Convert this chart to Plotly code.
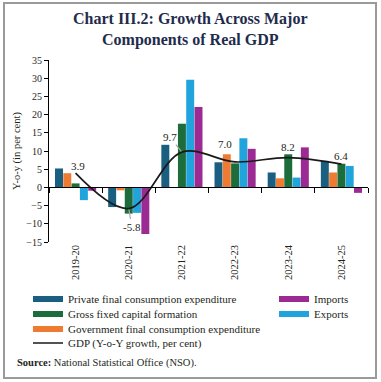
import plotly.graph_objects as go

# ---------------- data ----------------
years = ["2019-20", "2020-21", "2021-22", "2022-23", "2023-24", "2024-25"]
pfce = [5.2, -5.4, 11.7, 6.9, 4.1, 7.3]        # Private final consumption expenditure
gfce = [3.9, -0.8, 0.0, 9.1, 2.5, 4.1]         # Government final consumption expenditure
gfcf = [1.1, -7.2, 17.5, 6.6, 9.1, 6.5]        # Gross fixed capital formation
exports = [-3.5, -7.0, 29.6, 13.5, 2.7, 5.9]
imports = [-0.9, -12.8, 22.1, 10.6, 11.0, -1.5]
gdp = [3.9, -5.8, 9.7, 7.0, 8.2, 6.4]
gdp_labels = ["3.9", "-5.8", "9.7", "7.0", "8.2", "6.4"]
y_ticks = [-15, -10, -5, 0, 5, 10, 15, 20, 25, 30, 35]

# ---------------- layout helpers ----------------
W, H = 381, 382
ML, MR, MT, MB = 49, 13, 60, 140
PW, PH = W - ML - MR, H - MT - MB
def fx(px):
    return (px - ML) / PW
def fy(py):
    return (H - MB - py) / PH

FONT = "Liberation Serif"
TXT = "#231f20"
C_PFCE, C_GFCE, C_GFCF, C_EXP, C_IMP = "#1a5e80", "#ef7b32", "#1c6d3b", "#21a3dc", "#9c2a93"

fig = go.Figure()
for name, vals, col in [
    ("Private final consumption expenditure", pfce, C_PFCE),
    ("Government final consumption expenditure", gfce, C_GFCE),
    ("Gross fixed capital formation", gfcf, C_GFCF),
    ("Exports", exports, C_EXP),
    ("Imports", imports, C_IMP),
]:
    fig.add_trace(go.Bar(x=years, y=vals, name=name, marker_color=col,
                         marker_line_width=0, showlegend=False))

# GDP line on overlay axis (that axis also carries the zero line with boundary ticks)
fig.add_trace(go.Scatter(x=years, y=gdp, xaxis="x2", mode="lines",
                         line=dict(color="#1a1a1a", width=1.7, shape="spline", smoothing=1.0),
                         name="GDP (Y-o-Y growth, per cent)", legend="legend4"))

# legend swatches (one legend box per legend row/column)
legend_items = [
    ("Private final consumption expenditure", C_PFCE, "legend"),
    ("Gross fixed capital formation", C_GFCF, "legend2"),
    ("Government final consumption expenditure", C_GFCE, "legend3"),
    ("Imports", C_IMP, "legend5"),
    ("Exports", C_EXP, "legend6"),
]
for name, col, lg in legend_items:
    fig.add_trace(go.Scatter(x=[None], y=[None], mode="lines", name=name,
                             line=dict(color=col, width=6), legend=lg))

# GDP labels
offsets = [(2, -7, False), (3, 18, True), (-12, -15, True), (-10, -18, False), (0, -11, False), (0, -8, False)]
for yr, v, lab, (dx, dy, arrow) in zip(years, gdp, gdp_labels, offsets):
    if arrow:
        fig.add_annotation(x=yr, y=v, xref="x", yref="y", text=lab, showarrow=True,
                           ax=dx, ay=dy, arrowhead=0, arrowwidth=1.2, arrowcolor="#a8a8a8",
                           standoff=1, font=dict(family=FONT, size=11, color=TXT))
    else:
        fig.add_annotation(x=yr, y=v, xref="x", yref="y", text=lab, showarrow=False,
                           xshift=dx, yshift=-dy, font=dict(family=FONT, size=11, color=TXT))

# Title (single text block, two lines)
fig.add_annotation(x=fx(190.5), y=fy(29.5), xref="paper", yref="paper", showarrow=False,
                   text="<b>Chart III.2: Growth Across Major<br>Components of Real GDP</b>",
                   xanchor="center", yanchor="middle", align="center",
                   font=dict(family=FONT, size=16, color="#1f2c4c"))
# Source
fig.add_annotation(x=fx(15), y=fy(363), xref="paper", yref="paper", showarrow=False,
                   text="<b>Source:</b> National Statistical Office (NSO).", xanchor="left", yanchor="middle",
                   font=dict(family=FONT, size=10.5, color=TXT))

# Border
fig.add_shape(type="rect", xref="paper", yref="paper", x0=fx(4), x1=fx(376), y0=fy(378), y1=fy(3),
              line=dict(color="#9a9a9a", width=2), layer="below")

leg_common = dict(orientation="v", xanchor="left", yanchor="middle", bgcolor="rgba(0,0,0,0)",
                  font=dict(family=FONT, size=11, color=TXT), itemwidth=30)
fig.update_layout(
    width=W, height=H, margin=dict(l=ML, r=MR, t=MT, b=MB, autoexpand=False),
    paper_bgcolor="white", plot_bgcolor="white",
    barmode="group", bargap=0.22, bargroupgap=0.04,
    font=dict(family=FONT, size=10, color=TXT),
    xaxis=dict(type="category", categoryorder="array", categoryarray=years, range=[-0.5, 5.5],
               showline=False, ticks="", ticklen=0, tickangle=-90, showgrid=False,
               tickfont=dict(family=FONT, size=10.5, color=TXT)),
    xaxis2=dict(type="category", categoryorder="array", categoryarray=years, range=[-0.5, 5.5],
                overlaying="x", anchor="free", position=15 / 50, showline=True, linecolor="#000",
                linewidth=1, ticks="outside", tickson="boundaries", ticklen=5, tickcolor="#000",
                showticklabels=False, showgrid=False),
    yaxis=dict(range=[-15, 35], tickvals=y_ticks, showline=True, linecolor="#000", linewidth=1,
               ticks="outside", ticklen=4, tickcolor="#000", showgrid=False, zeroline=False,
               tickfont=dict(family=FONT, size=10, color=TXT),
               title=dict(text="Y-o-y (in per cent)", standoff=3,
                          font=dict(family=FONT, size=10.5, color=TXT))),
    legend=dict(x=fx(28), y=fy(299), **leg_common),
    legend2=dict(x=fx(28), y=fy(314), **leg_common),
    legend3=dict(x=fx(28), y=fy(329), **leg_common),
    legend4=dict(x=fx(28), y=fy(343), **leg_common),
    legend5=dict(x=fx(274), y=fy(299), **leg_common),
    legend6=dict(x=fx(274), y=fy(314), **leg_common),
)

fig.write_html("out.html", config={"displayModeBar": False},
               post_script="document.body.style.margin='0px';")
